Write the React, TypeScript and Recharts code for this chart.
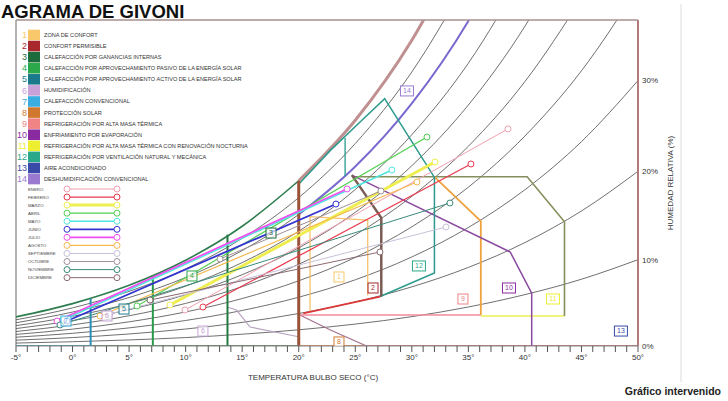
import React from 'react';
import { ComposedChart, Line, Scatter, XAxis, YAxis, ReferenceLine } from 'recharts';

// dry bulb temperature (°C) where the humidity curves were read
const temps = [-5, 0, 5, 10, 15, 20, 25, 30, 35, 40, 45, 50];

// humidity (g/kg)
const rh100 = [2.59, 3.77, 5.4, 7.63, 10.65, 14.7, 20.08, 27.2, 36.6];
const rh90 = [2.33, 3.39, 4.86, 6.86, 9.57, 13.2, 18.01, 24.38, 32.73];
const rh80 = [2.07, 3.02, 4.31, 6.09, 8.49, 11.7, 15.96, 21.58, 28.92, 38.5];
const rh70 = [1.81, 2.64, 3.77, 5.32, 7.42, 10.21, 13.92, 18.8, 25.16, 33.43];
const rh60 = [1.55, 2.26, 3.23, 4.56, 6.34, 8.73, 11.89, 16.04, 21.44, 28.44, 37.46];
const rh50 = [1.29, 1.88, 2.69, 3.79, 5.28, 7.27, 9.88, 13.31, 17.77, 23.52, 30.91];
const rh40 = [1.03, 1.5, 2.15, 3.03, 4.22, 5.8, 7.88, 10.6, 14.13, 18.68, 24.48, 31.88];
const rh30 = [0.78, 1.13, 1.61, 2.27, 3.16, 4.34, 5.89, 7.92, 10.54, 13.9, 18.18, 23.61];
const rh20 = [0.52, 0.75, 1.07, 1.51, 2.1, 2.89, 3.92, 5.26, 6.99, 9.2, 12.01, 15.54];
const rh10 = [0.26, 0.38, 0.54, 0.75, 1.05, 1.44, 1.95, 2.61, 3.47, 4.57, 5.94, 7.68];

const topExitT = [31.0, 33.1, 35.4, 37.9, 40.9, 44.4, 48.7];
const topLabels = ['100%', '90%', '80%', '70%', '60%', '50%', '40%'];
const rightLabels = ['0%', '10%', '20%', '30%'];

// zone outlines, [temp, humidity]
const zone1 = [[21.0, 3.0], [21.0, 11.5], [26.1, 11.2], [26.1, 4.5]];
const zone2 = [[27.3, 4.4], [27.3, 11.4], [24.7, 15.2]];
const zone2Base = [[20.4, 2.9], [27.2, 4.4]];
const zone3 = [[13.7, 0], [13.7, 9.9]];
const zone4 = [[7.1, 0], [7.1, 6.3]];
const zone7 = [[1.6, 0], [1.6, 4.2]];
const zoneLimit20 = [[20.0, 0], [20.0, 14.7]];
const zone6 = [[13.65, 3.47], [14.5, 3.2], [15.7, 1.69], [20.1, 0.8]];
const zone8 = [[20.1, 2.76], [22.8, 1.42], [26.0, 0]];
const zone9Base = [[20.1, 2.75], [36.1, 2.75]];
const zone9 = [[36.1, 2.75], [36.1, 11.1], [32.0, 15.05]];
const zone10 = [[24.7, 15.2], [38.7, 8.36], [40.6, 4.7], [40.6, 0]];
const zone11 = [[24.7, 15.05], [40.2, 15.05], [43.5, 11.06], [43.5, 2.67]];
const zone11Base = [[36.1, 2.67], [43.5, 2.67]];
const zone12 = [[20.1, 14.5], [22.8, 17.4], [25.4, 19.9], [27.6, 22.0], [32.0, 15.0], [32.0, 6.5], [27.2, 4.4]];
const zone12Side = [[24.1, 18.5], [24.1, 15.1]];
const axisCold = [[-5, 0], [1.6, 0]];
const axisMild = [[1.6, 0], [20, 0]];
const axisWarm = [[20, 0], [26, 0]];
const axisHot = [[26, 0], [50, 0]];

const zoneNames = [
  'ZONA DE CONFORT',
  'CONFORT PERMISIBLE',
  'CALEFACCIÓN POR GANANCIAS INTERNAS',
  'CALEFACCIÓN POR APROVECHAMIENTO PASIVO DE LA ENERGÍA SOLAR',
  'CALEFACCIÓN POR APROVECHAMIENTO ACTIVO DE LA ENERGÍA SOLAR',
  'HUMIDIFICACIÓN',
  'CALEFACCIÓN CONVENCIONAL',
  'PROTECCIÓN SOLAR',
  'REFRIGERACIÓN POR ALTA MASA TÉRMICA',
  'ENFRIAMIENTO POR EVAPORACIÓN',
  'REFRIGERACIÓN POR ALTA MASA TÉRMICA CON RENOVACIÓN NOCTURNA',
  'REFRIGERACIÓN POR VENTILACIÓN NATURAL Y MECÁNICA',
  'AIRE ACONDICIONADO',
  'DESHUMIDIFICACIÓN CONVENCIONAL',
];
const zoneColors = [
  '#f8c86a', '#a8282c', '#1e6b3c', '#2aa84a', '#1a7a8c', '#c8a2d8', '#3aaee0',
  '#d0782e', '#f08484', '#8a2aa0', '#eeee30', '#2aa88a', '#3a4aa8', '#9a7ad0',
];

// zone number boxes placed on the chart
const zoneTagNums = [14, 3, 4, 5, 6, 7, 6, 1, 2, 8, 12, 9, 10, 11, 13];
const zoneTagPos = [
  [29.57, 22.69], [17.55, 10.05], [10.56, 6.23], [4.55, 3.29], [3.05, 2.67], [-0.58, 2.22], [11.53, 1.33],
  [23.56, 6.14], [26.57, 5.16], [23.56, 0.36], [30.63, 7.12], [34.52, 4.18], [38.59, 5.16], [42.48, 4.18], [48.49, 1.33],
];

const months = [
  'ENERO', 'FEBRERO', 'MARZO', 'ABRIL', 'MAYO', 'JUNIO',
  'JULIO', 'AGOSTO', 'SEPTIEMBRE', 'OCTUBRE', 'NOVIEMBRE', 'DICIEMBRE',
];
const monthMin = [
  [9.94, 3.2], [11.53, 3.47], [8.62, 3.65], [5.7, 3.56], [-0.84, 2.31], [-0.49, 2.22],
  [-1.37, 2.22], [2.43, 2.67], [3.31, 2.85], [13.04, 7.74], [-1.11, 1.87], [6.85, 4.09],
];
const monthMax = [
  [38.5, 19.31], [35.23, 16.19], [32.05, 16.37], [31.34, 18.59], [28.24, 15.66], [23.29, 12.63],
  [24.27, 13.97], [30.46, 14.59], [33.02, 10.59], [27.27, 13.79], [33.37, 12.72], [27.18, 8.36],
];
const monthColors = [
  '#f2a0b0', '#e8384e', '#eeee50', '#52d052', '#50e6e0', '#3434d0',
  '#f050f0', '#f5b850', '#c8c0d8', '#a09098', '#3a8a7a', '#8a6a70',
];
const monthWidths = [1, 1.2, 3, 1.2, 1.5, 1.8, 1.8, 1.2, 1, 1, 1, 1];

const FONT = '"Liberation Sans", Arial, sans-serif';

const toPts = (pairs: number[][]) => pairs.map(([t, w]) => ({ t, w }));
const curve = (vals: number[], from = 0) => vals.map((w, i) => ({ t: temps[i + from], w }));

const rhData = [rh90, rh80, rh70, rh60, rh50, rh40, rh30, rh20, rh10].map((v) => curve(v));

const zoneLines = [
  { pts: axisCold, color: '#4a8fb5', width: 2 },
  { pts: axisMild, color: '#5f8a6a', width: 2 },
  { pts: axisWarm, color: '#e08a5a', width: 2 },
  { pts: axisHot, color: '#c47272', width: 2 },
  { pts: zone6, color: '#b9a3c2', width: 1.2 },
  { pts: zone8, color: '#a4708f', width: 1.2 },
  { pts: zone1, color: '#f5c26b', width: 1.3 },
  { pts: zone9Base, color: '#f28a9a', width: 1.5 },
  { pts: zone11Base, color: '#eeee50', width: 1.5 },
  { pts: zone11, color: '#84905c', width: 1.6 },
  { pts: zone9, color: '#f0a03c', width: 1.8 },
  { pts: zone10, color: '#8a4aa0', width: 1.5 },
  { pts: zone12, color: '#2a9a8c', width: 1.5 },
  { pts: zone12Side, color: '#2a9a8c', width: 1.3 },
  { pts: zone7, color: '#2a90b8', width: 2 },
  { pts: zone4, color: '#2a9a4a', width: 2 },
  { pts: zone3, color: '#207a40', width: 2 },
  { pts: zoneLimit20, color: '#9a5238', width: 3 },
  { pts: zone2, color: '#7a5c55', width: 2.5 },
  { pts: zone2Base, color: '#dc3a3a', width: 1.8 },
];

const zoneTags = zoneTagNums.map((n, i) => ({
  t: zoneTagPos[i][0],
  w: zoneTagPos[i][1],
  n: String(n),
  color: zoneColors[n - 1],
}));

const ZoneTag = (props: any) => {
  const { cx, cy, payload } = props;
  const wide = payload.n.length > 1 ? 13 : 10;
  return (
    <g>
      <rect x={cx - wide / 2} y={cy - 5} width={wide} height={10} fill="#fff" fillOpacity={0.7} stroke={payload.color} strokeWidth={1} />
      <text x={cx} y={cy} dy="0.35em" textAnchor="middle" fontSize={7} fontFamily={FONT} fill={payload.color}>
        {payload.n}
      </text>
    </g>
  );
};

const BottomTick = (props: any) => {
  const { x, y, payload } = props;
  if (payload.value % 5 !== 0) return null;
  return (
    <text x={x} y={y} dy="0.71em" textAnchor="middle" fontSize={8} fontFamily={FONT} fill="#333">
      {`${payload.value}°`}
    </text>
  );
};

const minorTicks = Array.from({ length: 56 }, (_, i) => i - 5);

export default function App() {
  const rightTicks = [0, rh10[11], rh20[11], rh30[11]];
  return (
    <div style={{ position: 'absolute', left: 0, top: 0, width: 728, height: 401, background: '#fff', overflow: 'hidden' }}>
      <ComposedChart width={728} height={401} margin={{ top: 6, right: 50, bottom: 19, left: 16 }}>
        <XAxis
          xAxisId="bottom"
          dataKey="t"
          type="number"
          domain={[-5, 50]}
          allowDataOverflow
          ticks={minorTicks}
          interval={0}
          height={36}
          tickSize={6}
          tickMargin={2}
          tick={<BottomTick />}
          tickLine={{ stroke: '#555' }}
          axisLine={{ stroke: '#888' }}
          label={{ value: 'TEMPERATURA BULBO SECO (°C)', position: 'insideBottom', offset: 2, dx: -14, fontSize: 8, fill: '#333', fontFamily: FONT }}
        />
        <XAxis
          xAxisId="top"
          orientation="top"
          type="number"
          domain={[-5, 50]}
          allowDataOverflow
          ticks={topExitT}
          interval={0}
          height={14}
          tickSize={0}
          tickMargin={3}
          tickLine={false}
          axisLine={{ stroke: '#a89090', strokeWidth: 1.5 }}
          tickFormatter={(v: number, i: number) => topLabels[i]}
          tick={{ fontSize: 8, fill: '#333', fontFamily: FONT }}
        />
        <YAxis
          orientation="right"
          dataKey="w"
          type="number"
          domain={[0, 29]}
          allowDataOverflow
          ticks={rightTicks}
          interval={0}
          width={40}
          tickSize={0}
          tickMargin={4}
          tickLine={false}
          axisLine={{ stroke: '#b07a7a', strokeWidth: 2 }}
          tickFormatter={(v: number, i: number) => rightLabels[i]}
          tick={{ fontSize: 8, fill: '#333', fontFamily: FONT }}
          label={{ value: 'HUMEDAD RELATIVA (%)', angle: -90, position: 'insideRight', offset: 8, fontSize: 8, fill: '#333', fontFamily: FONT, style: { textAnchor: 'middle' } }}
        />
        <ReferenceLine xAxisId="bottom" x={-5} stroke="#9a9a9a" strokeWidth={1.5} />

        {rhData.map((d, i) => (
          <Line key={`rh${i}`} xAxisId="bottom" data={d} dataKey="w" type="monotone" stroke="#4a4a4a" strokeWidth={0.8} dot={false} isAnimationActive={false} />
        ))}
        <Line xAxisId="bottom" data={curve(rh100.slice(0, 6))} dataKey="w" type="monotone" stroke="#2e7d4f" strokeWidth={1.6} dot={false} isAnimationActive={false} />
        <Line xAxisId="bottom" data={curve(rh100.slice(5), 5)} dataKey="w" type="monotone" stroke="#c09090" strokeWidth={3} dot={false} isAnimationActive={false} />
        <Line xAxisId="bottom" data={curve(rh80.slice(5), 5)} dataKey="w" type="monotone" stroke="#7a6ad0" strokeWidth={2} dot={false} isAnimationActive={false} />

        {zoneLines.map((z, i) => (
          <Line key={`z${i}`} xAxisId="bottom" data={toPts(z.pts)} dataKey="w" type="linear" stroke={z.color} strokeWidth={z.width} dot={false} isAnimationActive={false} />
        ))}

        {months.map((m, i) => (
          <Line
            key={m}
            xAxisId="bottom"
            data={toPts([monthMin[i], monthMax[i]])}
            dataKey="w"
            type="linear"
            stroke={monthColors[i]}
            strokeWidth={monthWidths[i]}
            dot={{ r: 3, fill: '#fff', stroke: monthColors[i], strokeWidth: 1 }}
            isAnimationActive={false}
          />
        ))}

        <Scatter xAxisId="bottom" data={zoneTags} dataKey="w" shape={<ZoneTag />} isAnimationActive={false} />
      </ComposedChart>

      <svg width={728} height={401} style={{ position: 'absolute', left: 0, top: 0, pointerEvents: 'none' }} fontFamily={FONT}>
        <text x={1} y={17.5} fontSize={18.5} fontWeight="bold" fill="#111">AGRAMA DE GIVONI</text>
        <line x1={681} y1={4} x2={681} y2={382} stroke="#dcdcdc" strokeWidth={1} />
        <text x={721} y={395} textAnchor="end" fontSize={10.5} fontWeight="bold" fill="#222">Gráfico intervenido</text>

        {zoneNames.map((name, i) => {
          const cy = 35 + i * 11.08;
          return (
            <g key={name}>
              <text x={27} y={cy} dy="0.35em" textAnchor="end" fontSize={9} fill={zoneColors[i]}>{i + 1}</text>
              <rect x={28} y={cy - 5.3} width={12} height={10.6} fill={zoneColors[i]} />
              <text x={44} y={cy} dy="0.35em" fontSize={5.6} fill="#333">{name}</text>
            </g>
          );
        })}
        {months.map((m, i) => {
          const cy = 189 + i * 8.06;
          return (
            <g key={m}>
              <text x={28} y={cy} dy="0.35em" fontSize={4.3} fill="#444">{m}</text>
              <line x1={67} y1={cy} x2={117} y2={cy} stroke={monthColors[i]} strokeWidth={monthWidths[i]} />
              <circle cx={67} cy={cy} r={3} fill="#fff" stroke={monthColors[i]} strokeWidth={1} />
              <circle cx={117} cy={cy} r={3} fill="#fff" stroke={monthColors[i]} strokeWidth={1} />
            </g>
          );
        })}
      </svg>
    </div>
  );
}
